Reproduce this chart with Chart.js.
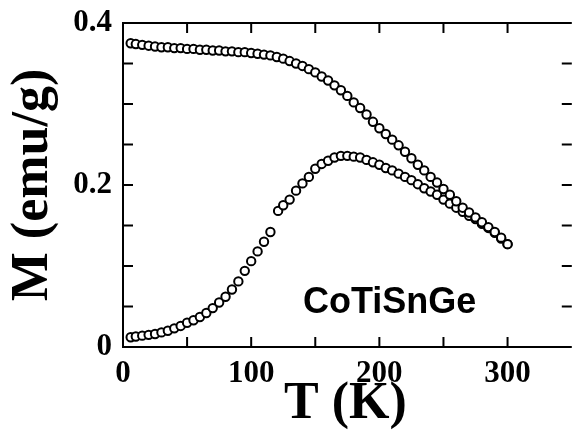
<!DOCTYPE html>
<html>
<head>
<meta charset="utf-8">
<title>M vs T</title>
<script src="https://cdn.jsdelivr.net/npm/chart.js@4.4.0/dist/chart.umd.min.js"></script>
<style>
  html, body { margin: 0; padding: 0; background: #fff; overflow: hidden; }
</style>
</head>
<body>
<canvas id="mtChart" width="574" height="444"></canvas>
<script>
// field-cooled branch (upper curve)
const tempFC = [6, 10, 15, 20, 25, 30, 35, 40, 45, 50, 55, 60, 65, 70, 75, 80, 85, 90, 95, 100,
  105, 110, 115, 120, 125, 130, 135, 140, 145, 150, 155, 160, 165, 170, 175, 180, 185, 190, 195, 200,
  205, 210, 215, 220, 225, 230, 235, 240, 245, 250, 255, 260, 265, 270, 275, 280, 285, 290, 295, 300];
const magFC = [0.375, 0.374, 0.373, 0.372, 0.371, 0.370, 0.370, 0.369, 0.369, 0.368, 0.368, 0.367, 0.367, 0.366, 0.366, 0.365, 0.365, 0.364, 0.364, 0.363,
  0.362, 0.361, 0.360, 0.358, 0.356, 0.353, 0.350, 0.347, 0.343, 0.339, 0.334, 0.329, 0.323, 0.317, 0.310, 0.302, 0.295, 0.287, 0.278, 0.270,
  0.263, 0.256, 0.249, 0.241, 0.233, 0.225, 0.218, 0.210, 0.203, 0.195, 0.188, 0.180, 0.172, 0.166, 0.160, 0.154, 0.148, 0.142, 0.135, 0.127];

// zero-field-cooled branch (lower curve)
const tempZFC = [6, 10, 15, 20, 25, 30, 35, 40, 45, 50, 55, 60, 65, 70, 75, 80, 85, 90, 95, 100,
  105, 110, 115, 121, 125, 130, 135, 140, 145, 150, 155, 160, 165, 170, 175, 180, 185, 190, 195, 200,
  205, 210, 215, 220, 225, 230, 235, 240, 245, 250, 255, 260, 265, 270, 275, 280, 285, 290, 295, 300];
const magZFC = [0.012, 0.013, 0.014, 0.015, 0.016, 0.018, 0.020, 0.023, 0.026, 0.030, 0.033, 0.037, 0.042, 0.048, 0.055, 0.062, 0.071, 0.081, 0.094, 0.106,
  0.118, 0.130, 0.142, 0.168, 0.175, 0.182, 0.193, 0.202, 0.210, 0.220, 0.226, 0.230, 0.234, 0.236, 0.236, 0.235, 0.234, 0.231, 0.228, 0.225,
  0.221, 0.218, 0.214, 0.210, 0.206, 0.201, 0.196, 0.192, 0.188, 0.182, 0.177, 0.172, 0.167, 0.162, 0.158, 0.152, 0.147, 0.141, 0.134, 0.127];

// tick marks every 50 K / 0.05 emu/g, numbers only on some of them
const xTickValues = [0, 50, 100, 150, 200, 250, 300];
const xTickLabels = [0, 100, 200, 300];
const yTickValues = [0, 0.05, 0.1, 0.15, 0.2, 0.25, 0.3, 0.35, 0.4];
const yTickLabels = [0, 0.2, 0.4];
const sampleName = 'CoTiSnGe';

const serif = '"Liberation Serif", "Times New Roman", serif';

function toPoints(xs, ys) {
  return xs.map((x, i) => ({ x: x, y: ys[i] }));
}

function labelFor(list, v) {
  const hit = list.find(l => Math.abs(l - v) < 1e-6);
  return hit === undefined ? '' : String(hit);
}

// frame (right edge runs off the canvas) with inward ticks on all four sides
const frameTicks = {
  id: 'frameTicks',
  afterDraw(chart) {
    const ctx = chart.ctx;
    const a = chart.chartArea;
    const xs = chart.scales.x;
    const ys = chart.scales.y;
    const len = 10;
    const rightEdge = a.right + 4;
    ctx.save();
    ctx.strokeStyle = '#000';
    ctx.lineWidth = 2;
    ctx.beginPath();
    ctx.moveTo(rightEdge, a.top);
    ctx.lineTo(a.left, a.top);
    ctx.lineTo(a.left, a.bottom);
    ctx.lineTo(rightEdge, a.bottom);
    ctx.stroke();
    ctx.beginPath();
    xTickValues.forEach(v => {
      if (v <= xs.min) return;
      const px = xs.getPixelForValue(v);
      ctx.moveTo(px, a.bottom); ctx.lineTo(px, a.bottom - len);
      ctx.moveTo(px, a.top); ctx.lineTo(px, a.top + len);
    });
    yTickValues.forEach(v => {
      if (v <= ys.min + 1e-9 || v >= ys.max - 1e-9) return;
      const py = ys.getPixelForValue(v);
      ctx.moveTo(a.left, py); ctx.lineTo(a.left + len, py);
      ctx.moveTo(rightEdge, py); ctx.lineTo(rightEdge - len, py);
    });
    ctx.stroke();

    ctx.fillStyle = '#000';
    ctx.font = 'bold 36px "Liberation Sans", Arial, sans-serif';
    ctx.textAlign = 'center';
    ctx.textBaseline = 'alphabetic';
    ctx.fillText(sampleName, xs.getPixelForValue(208), ys.getPixelForValue(0.042));
    ctx.restore();
  }
};

const pointStyle = {
  showLine: false,
  pointRadius: 4.2,
  pointBorderWidth: 2,
  pointBorderColor: '#000',
  pointBackgroundColor: '#fff'
};

new Chart(document.getElementById('mtChart'), {
  type: 'scatter',
  data: {
    datasets: [
      Object.assign({ label: 'FC', data: toPoints(tempFC, magFC) }, pointStyle),
      Object.assign({ label: 'ZFC', data: toPoints(tempZFC, magZFC) }, pointStyle)
    ]
  },
  options: {
    responsive: false,
    animation: false,
    layout: { padding: { left: 0, top: 23, right: 0, bottom: 0 } },
    plugins: { legend: { display: false }, tooltip: { enabled: false } },
    scales: {
      x: {
        type: 'linear',
        min: 0,
        max: 347,
        grid: { display: false, drawTicks: false },
        border: { display: false },
        ticks: {
          autoSkip: false,
          maxRotation: 0,
          padding: 8,
          color: '#000',
          font: { family: serif, size: 31, weight: 'bold' },
          callback: v => labelFor(xTickLabels, v)
        },
        afterBuildTicks: s => { s.ticks = xTickLabels.map(v => ({ value: v })); },
        title: {
          display: true,
          text: 'T (K)',
          color: '#000',
          font: { family: serif, size: 52, weight: 'bold' },
          padding: { top: 0, bottom: 8 }
        },
        afterFit: s => { s.height = 97; s.paddingLeft = 0; s.paddingRight = 0; }
      },
      y: {
        type: 'linear',
        min: 0,
        max: 0.4,
        grid: { display: false, drawTicks: false },
        border: { display: false },
        ticks: {
          autoSkip: false,
          padding: 11,
          color: '#000',
          font: { family: serif, size: 31, weight: 'bold' },
          callback: v => labelFor(yTickLabels, v)
        },
        afterBuildTicks: s => { s.ticks = yTickLabels.map(v => ({ value: v })); },
        title: {
          display: true,
          text: 'M (emu/g)',
          color: '#000',
          font: { family: serif, size: 52, weight: 'bold' },
          padding: { top: 2, bottom: 0 }
        },
        afterFit: s => { s.width = 123; s.paddingTop = 0; s.paddingBottom = 0; }
      }
    }
  },
  plugins: [frameTicks]
});
</script>
</body>
</html>
